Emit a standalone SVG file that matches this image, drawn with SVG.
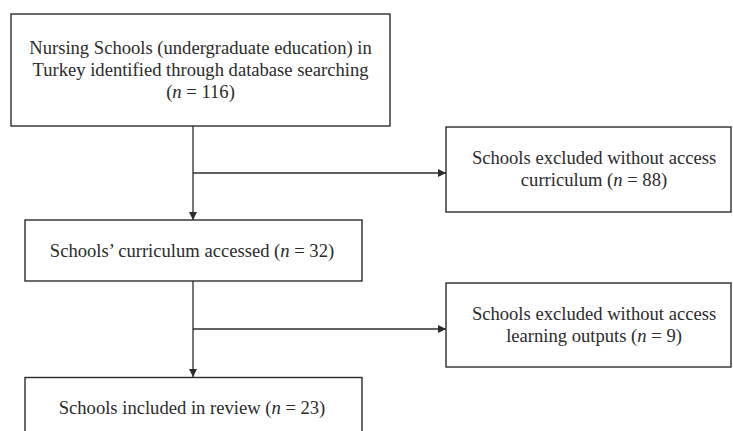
<svg xmlns="http://www.w3.org/2000/svg" width="733" height="431" viewBox="0 0 733 431">
<style>
.box{fill:#fff;stroke:#2b2b2b;stroke-width:1.4}
.t{font-family:"Liberation Serif","Times New Roman",serif;font-size:18.6px;fill:#2b2b2b;text-anchor:middle}
.c{fill:none;stroke:#2b2b2b;stroke-width:1.3}
</style>
<defs>
<marker id="ah" viewBox="0 0 10 10" refX="10" refY="5" markerWidth="8" markerHeight="8" markerUnits="userSpaceOnUse" orient="auto">
<path d="M0,0 L10,5 L0,10 Z" fill="#2b2b2b"/>
</marker>
</defs>
<rect width="733" height="431" fill="#fff"/>
<g id="connectors">
<line class="c" x1="193" y1="126" x2="193" y2="220" marker-end="url(#ah)"/>
<line class="c" x1="193" y1="173" x2="446" y2="173" marker-end="url(#ah)"/>
<line class="c" x1="193" y1="281" x2="193" y2="377" marker-end="url(#ah)"/>
<line class="c" x1="193" y1="329" x2="446" y2="329" marker-end="url(#ah)"/>
</g>
<g id="n1">
<rect class="box" x="11" y="14" width="379" height="112"/>
<text class="t" x="200.5" y="54">Nursing Schools (undergraduate education) in</text>
<text class="t" x="200.5" y="76">Turkey identified through database searching</text>
<text class="t" x="200.5" y="98">(<tspan font-style="italic">n</tspan> = 116)</text>
</g>
<g id="n2">
<rect class="box" x="446" y="127" width="285" height="85"/>
<text class="t" x="594" y="164">Schools excluded without access</text>
<text class="t" x="594" y="186">curriculum (<tspan font-style="italic">n</tspan> = 88)</text>
</g>
<g id="n3">
<rect class="box" x="25" y="220" width="337" height="61"/>
<text class="t" x="192" y="257">Schools’ curriculum accessed (<tspan font-style="italic">n</tspan> = 32)</text>
</g>
<g id="n4">
<rect class="box" x="446" y="283" width="285" height="84"/>
<text class="t" x="594" y="320">Schools excluded without access</text>
<text class="t" x="594" y="342">learning outputs (<tspan font-style="italic">n</tspan> = 9)</text>
</g>
<g id="n5">
<rect class="box" x="25" y="377.5" width="337" height="60"/>
<text class="t" x="192" y="414">Schools included in review (<tspan font-style="italic">n</tspan> = 23)</text>
</g>
</svg>
